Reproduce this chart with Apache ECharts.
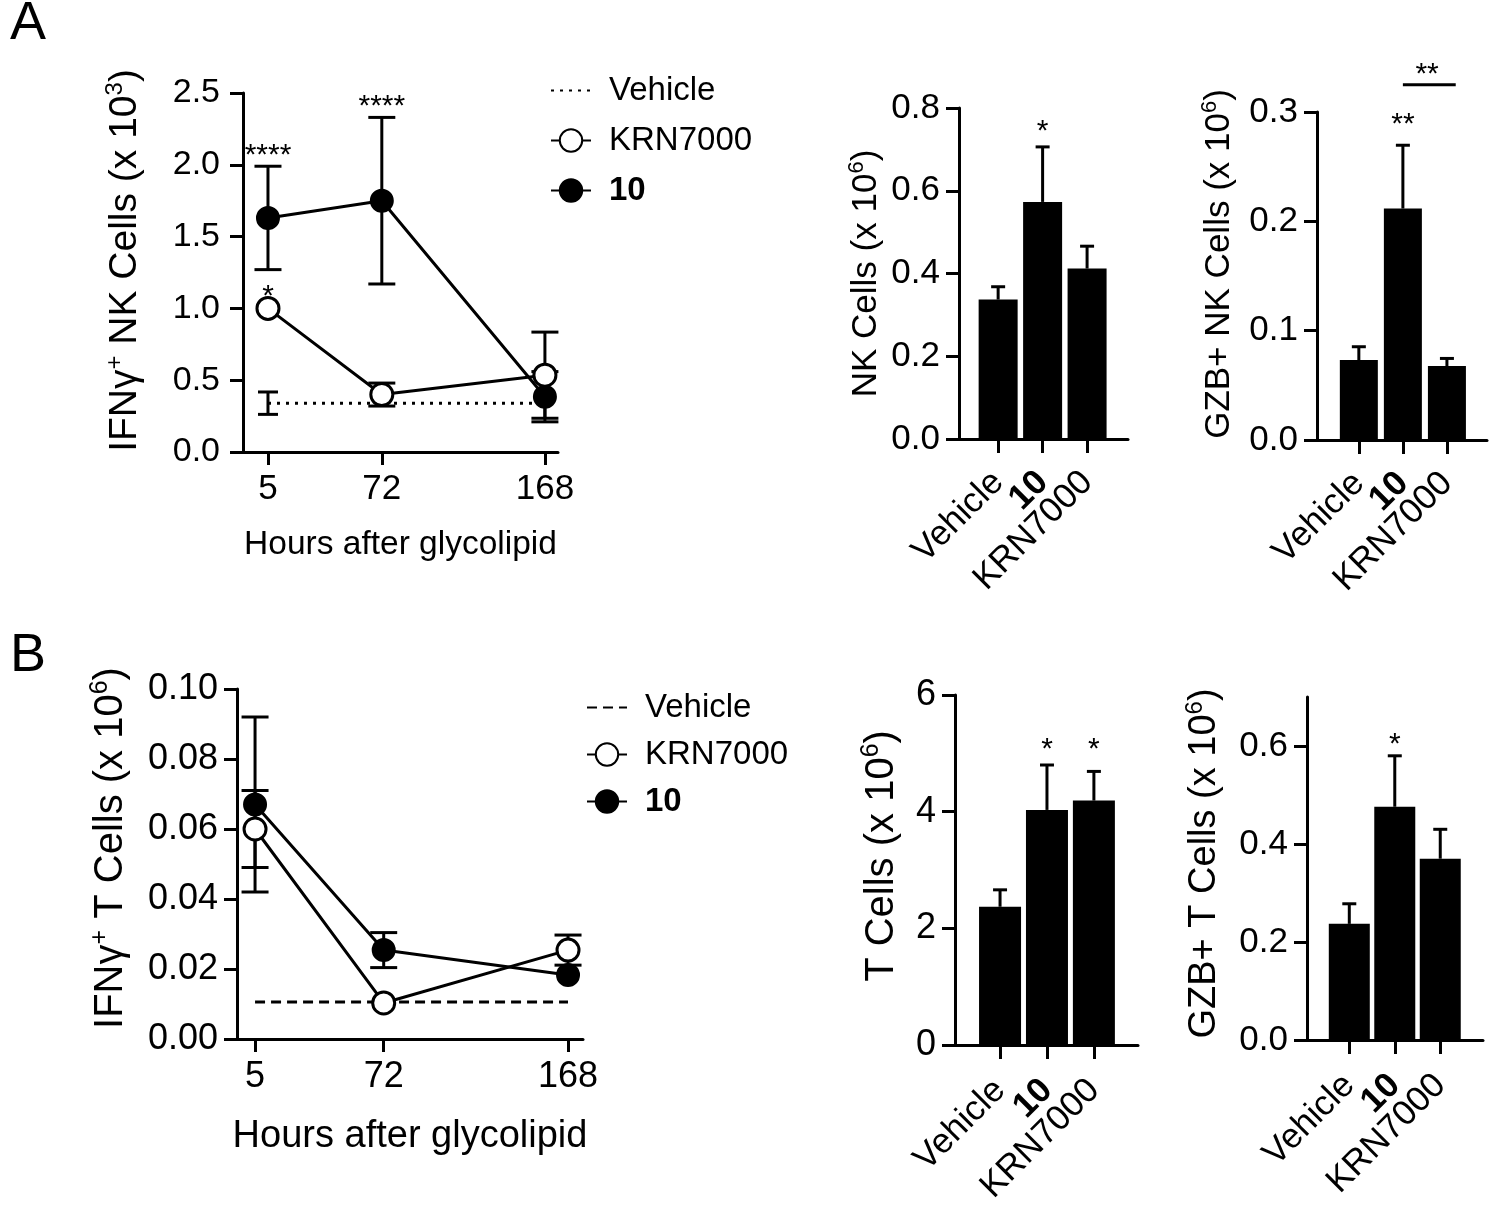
<!DOCTYPE html>
<html>
<head>
<meta charset="utf-8">
<script src="https://cdn.jsdelivr.net/npm/echarts@6/dist/echarts.min.js"></script>
<style>
  html, body { margin: 0; background: #fff; }
  #chart { width: 1500px; height: 1219px; }
</style>
</head>
<body>
<div id="chart"></div>
<script>
const FONT = '"Liberation Sans", Arial, Helvetica, sans-serif';

// A - IFNg+ NK cells (x 10^3) over time
const hours = [5, 72, 168];
const nkVehicle = 0.34;
const nkVehicleErr = 0.078;
const nkKrn = [1.0, 0.40, 0.535];
const nkKrnErr = [0, 0.08, 0.30];
const nkTen = [1.63, 1.75, 0.385];
const nkTenErr = [0.36, 0.58, 0.175];

// B - IFNg+ T cells (x 10^6) over time
const tVehicle = 0.0106;
const tKrn = [0.060, 0.0103, 0.0254];
const tKrnErr = [0.011, 0, 0.0043];
const tTen = [0.067, 0.0254, 0.0183];
const tTenErr = [0.025, 0.005, 0];

// bar panels, order: Vehicle, 10, KRN7000
const groups = ['Vehicle', '10', 'KRN7000'];
const nkCells = [0.337, 0.573, 0.412];
const nkCellsErr = [0.031, 0.133, 0.054];
const gzbNk = [0.0731, 0.2117, 0.0676];
const gzbNkErr = [0.0122, 0.0579, 0.007];
const tCells = [2.37, 4.03, 4.19];
const tCellsErr = [0.29, 0.77, 0.50];
const gzbT = [0.237, 0.476, 0.370];
const gzbTErr = [0.041, 0.104, 0.060];

// significance marks: [x, y, text]
const sigNkTime = [[5, 2.118, '****'], [72, 2.458, '****'], [5, 1.139, '*']];
const sigNkCells = [[2, 0.763, '*']];
const sigGzbNk = [[2, 0.2954, '**'], [2.55, 0.341, '**']];
const bracketGzbNk = [2, 3.2, 0.325];
const sigTCells = [[2, 5.2, '*'], [3, 5.2, '*']];
const sigGzbT = [[2, 0.618, '*']];

const barPos = [1, 2, 3];
const black = '#000';

function lineAxis() {
    return { show: true, onZero: false, lineStyle: { color: black, width: 3 } };
}
function ticks(len, custom) {
    const t = { show: true, length: len, lineStyle: { color: black, width: 3 } };
    if (custom) t.customValues = custom;
    return t;
}

function timeX(idx, min, max, labelSize, nameSize, nameGap, margin) {
    return {
        type: 'value', gridIndex: idx, min: min, max: max,
        axisLine: lineAxis(), splitLine: { show: false },
        axisTick: ticks(13, hours),
        axisLabel: {
            customValues: hours, fontSize: labelSize, fontFamily: FONT, color: black, margin: margin,
            showMinLabel: true, showMaxLabel: true
        },
        name: 'Hours after glycolipid', nameLocation: 'middle', nameGap: nameGap,
        nameTextStyle: { fontSize: nameSize, fontFamily: FONT, color: black }
    };
}

// the bar x axis is split in two overlaid axes so that the rotated
// group labels are not dropped as overlapping
function barX(idx, min, max, margin, labelled, drawLine) {
    return {
        type: 'value', gridIndex: idx, min: min, max: max, position: 'bottom',
        axisLine: drawLine ? lineAxis() : { show: false, onZero: false },
        splitLine: { show: false },
        axisTick: drawLine ? ticks(14, barPos) : { show: false },
        axisLabel: {
            customValues: labelled, rotate: 45, margin: margin,
            showMinLabel: true, showMaxLabel: true, hideOverlap: false,
            fontSize: 35, fontFamily: FONT, color: black,
            formatter: function (v) {
                const g = groups[Math.round(v) - 1];
                return g === '10' ? '{b|10}' : g;
            },
            rich: { b: { fontWeight: 'bold', fontSize: 35, fontFamily: FONT, color: black } }
        }
    };
}

function valY(idx, max, interval, digits, labelSize, margin, name, nameSize, nameGap, shift, custom) {
    const ax = {
        type: 'value', gridIndex: idx, min: 0, max: max, interval: interval,
        axisLine: lineAxis(), splitLine: { show: false },
        axisTick: ticks(13, custom),
        axisLabel: {
            fontSize: labelSize, fontFamily: FONT, color: black, margin: margin,
            showMinLabel: true, showMaxLabel: true,
            formatter: function (v) { return v.toFixed(digits); }
        },
        name: name, nameLocation: 'middle', nameGap: nameGap,
        nameTextStyle: {
            fontSize: nameSize, fontFamily: FONT, color: black, lineHeight: Math.round(nameSize * 1.15),
            padding: [0, 0, 0, shift],
            rich: {
                sup: {
                    fontSize: Math.round(nameSize * 0.62), fontFamily: FONT, color: black,
                    verticalAlign: 'top', lineHeight: Math.round(nameSize * 0.62)
                }
            }
        }
    };
    if (custom) ax.axisLabel.customValues = custom;
    return ax;
}

function errBars(idx, xs, ys, errs, cap, both, z) {
    return {
        type: 'custom', xAxisIndex: idx, yAxisIndex: idx, z: z, silent: true,
        data: xs.map(function (x, i) { return [x, ys[i], errs[i]]; }),
        renderItem: function (params, api) {
            const x = api.value(0), y = api.value(1), e = api.value(2);
            if (!e) return { type: 'group', children: [] };
            const hi = api.coord([x, y + e]);
            const lo = api.coord([x, both ? y - e : y]);
            const st = { stroke: black, lineWidth: 3 };
            const kids = [
                { type: 'line', shape: { x1: hi[0], y1: hi[1], x2: lo[0], y2: lo[1] }, style: st },
                { type: 'line', shape: { x1: hi[0] - cap / 2, y1: hi[1], x2: hi[0] + cap / 2, y2: hi[1] }, style: st }
            ];
            if (both) {
                kids.push({ type: 'line', shape: { x1: lo[0] - cap / 2, y1: lo[1], x2: lo[0] + cap / 2, y2: lo[1] }, style: st });
            }
            return { type: 'group', children: kids };
        }
    };
}

function sigMarks(idx, items, size) {
    return {
        type: 'custom', xAxisIndex: idx, yAxisIndex: idx, z: 6, silent: true,
        data: items.map(function (d) { return [d[0], d[1]]; }),
        renderItem: function (params, api) {
            const p = api.coord([api.value(0), api.value(1)]);
            return {
                type: 'text', x: p[0], y: p[1] + 8,
                style: { text: items[params.dataIndex][2], fontSize: size, fontFamily: FONT, fill: black, align: 'center', verticalAlign: 'middle' }
            };
        }
    };
}

function bars(idx, vals, width) {
    return {
        type: 'bar', xAxisIndex: idx, yAxisIndex: idx, barWidth: width, z: 2, silent: true,
        itemStyle: { color: black },
        data: vals.map(function (v, i) { return [barPos[i], v]; })
    };
}

function timeLine(idx, name, vals, filled, z) {
    return {
        type: 'line', name: name, xAxisIndex: idx, yAxisIndex: idx, z: z, silent: true,
        symbol: 'circle', symbolSize: 22,
        itemStyle: filled ? { color: black, borderColor: black, borderWidth: 2 } : { color: '#fff', borderColor: black, borderWidth: 3 },
        lineStyle: { color: black, width: 3 },
        data: hours.map(function (h, i) { return [h, vals[i]]; })
    };
}

function vehicleLine(idx, name, val, dash) {
    return {
        type: 'line', name: name, xAxisIndex: idx, yAxisIndex: idx, z: 2, silent: true,
        symbol: 'none', itemStyle: { color: 'rgba(0,0,0,0)', borderWidth: 0 },
        lineStyle: { color: black, width: 3, type: dash },
        data: hours.map(function (h) { return [h, val]; })
    };
}

const legendText = {
    fontSize: 33, fontFamily: FONT, color: black, padding: [0, 0, 0, 13],
    rich: { b: { fontWeight: 'bold', fontSize: 33, fontFamily: FONT, color: black } }
};

const chart = echarts.init(document.getElementById('chart'));

const option = {
    backgroundColor: '#fff',
    animation: false,
    graphic: [
        { type: 'text', left: 10, top: -3, style: { text: 'A', fontSize: 54, fontFamily: FONT, fill: black } },
        { type: 'text', left: 10, top: 629, style: { text: 'B', fontSize: 54, fontFamily: FONT, fill: black } }
    ],
    legend: [
        {
            data: ['Vehicle', 'KRN7000', '10'], orient: 'vertical', left: 545, top: 69,
            itemWidth: 40, itemHeight: 28, itemGap: 17, selectedMode: false, textStyle: legendText,
            formatter: function (n) { return n === '10' ? '{b|10}' : n; }
        },
        {
            data: ['B Vehicle', 'B KRN7000', 'B 10'], orient: 'vertical', left: 581, top: 686,
            itemWidth: 40, itemHeight: 28, itemGap: 14, selectedMode: false, textStyle: legendText,
            formatter: function (n) { const s = n.slice(2); return s === '10' ? '{b|10}' : s; }
        }
    ],
    grid: [
        { left: 243, top: 93, width: 315, height: 359, outerBoundsMode: 'none' },
        { left: 959, top: 108, width: 169, height: 331, outerBoundsMode: 'none' },
        { left: 1317, top: 112, width: 170, height: 328, outerBoundsMode: 'none' },
        { left: 237, top: 689, width: 346, height: 350, outerBoundsMode: 'none' },
        { left: 955, top: 695, width: 183, height: 350, outerBoundsMode: 'none' },
        { left: 1307, top: 697, width: 176, height: 343, outerBoundsMode: 'none' }
    ],
    xAxis: [
        timeX(0, -9.7, 175.7, 35, 33.5, 76, 20),
        barX(1, 0.12, 3.92, 38, [1, 3], true),
        barX(2, 0.05, 3.91, 38, [1, 3], true),
        timeX(3, -4.4, 175.8, 36, 38, 79, 20),
        barX(4, 0.04, 3.94, 40, [1, 3], true),
        barX(5, 0.07, 3.94, 40, [1, 3], true),
        barX(1, 0.12, 3.92, 38, [2], false),
        barX(2, 0.05, 3.91, 38, [2], false),
        barX(4, 0.04, 3.94, 40, [2], false),
        barX(5, 0.07, 3.94, 40, [2], false)
    ],
    yAxis: [
        valY(0, 2.5, 0.5, 1, 34, 23, 'IFNγ{sup|+} NK Cells (x 10{sup|3})', 39, 95, 24),
        valY(1, 0.8, 0.2, 1, 35, 19, 'NK Cells (x 10{sup|6})', 35, 73, 0),
        valY(2, 0.3, 0.1, 1, 35, 19, 'GZB+ NK Cells (x 10{sup|6})', 35, 78, 24),
        valY(3, 0.1, 0.02, 2, 36, 19, 'IFNγ{sup|+} T Cells (x 10{sup|6})', 40, 103, 32),
        valY(4, 6, 2, 0, 36, 19, 'T Cells (x 10{sup|6})', 40, 50, 28),
        valY(5, 0.7, 0.1, 1, 35, 19, 'GZB+ T Cells (x 10{sup|6})', 38, 80, 10, [0, 0.2, 0.4, 0.6])
    ],
    series: [
        // A time course
        vehicleLine(0, 'Vehicle', nkVehicle, [3, 6]),
        errBars(0, [hours[0]], [nkVehicle], [nkVehicleErr], 20, true, 2),
        errBars(0, hours, nkTen, nkTenErr, 27, true, 2),
        errBars(0, hours, nkKrn, nkKrnErr, 27, true, 2),
        timeLine(0, '10', nkTen, true, 3),
        timeLine(0, 'KRN7000', nkKrn, false, 4),
        sigMarks(0, sigNkTime, 30),
        // A bars
        bars(1, nkCells, 39),
        errBars(1, barPos, nkCells, nkCellsErr, 14, false, 3),
        sigMarks(1, sigNkCells, 30),
        bars(2, gzbNk, 38),
        errBars(2, barPos, gzbNk, gzbNkErr, 14, false, 3),
        sigMarks(2, sigGzbNk, 30),
        {
            type: 'custom', xAxisIndex: 2, yAxisIndex: 2, z: 6, silent: true,
            data: [bracketGzbNk],
            renderItem: function (params, api) {
                const a = api.coord([api.value(0), api.value(2)]);
                const b = api.coord([api.value(1), api.value(2)]);
                return { type: 'line', shape: { x1: a[0], y1: a[1], x2: b[0], y2: b[1] }, style: { stroke: black, lineWidth: 3 } };
            }
        },
        // B time course
        vehicleLine(3, 'B Vehicle', tVehicle, [10, 6]),
        errBars(3, hours, tTen, tTenErr, 27, true, 2),
        errBars(3, hours, tKrn, tKrnErr, 27, true, 2),
        timeLine(3, 'B 10', tTen, true, 3),
        timeLine(3, 'B KRN7000', tKrn, false, 4),
        // B bars
        bars(4, tCells, 42),
        errBars(4, barPos, tCells, tCellsErr, 14, false, 3),
        sigMarks(4, sigTCells, 30),
        bars(5, gzbT, 41),
        errBars(5, barPos, gzbT, gzbTErr, 14, false, 3),
        sigMarks(5, sigGzbT, 30)
    ]
};

chart.setOption(option);
</script>
</body>
</html>
